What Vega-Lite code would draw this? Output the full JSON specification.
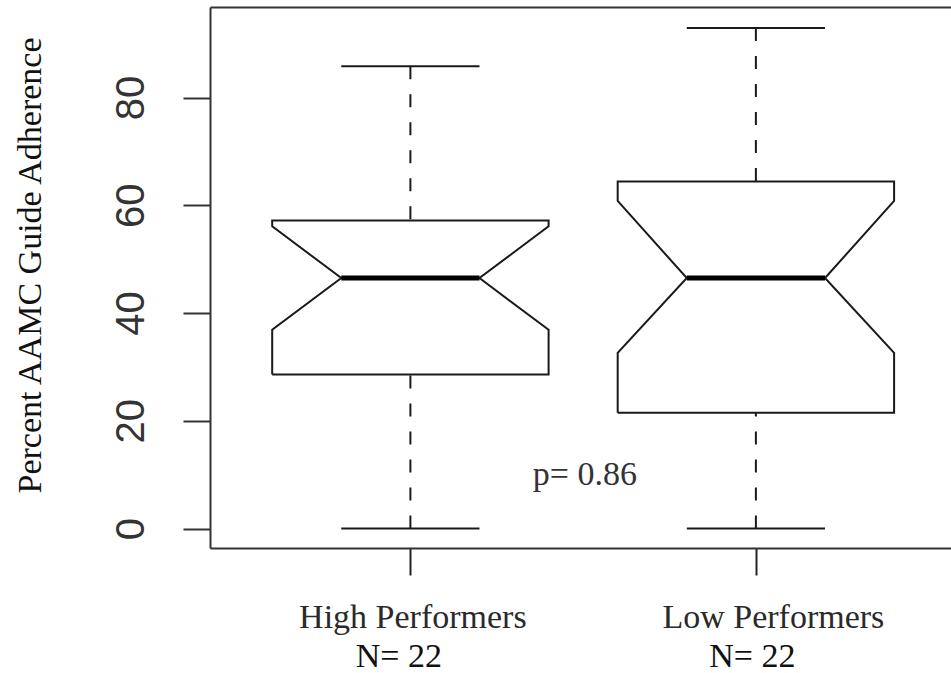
{
  "$schema": "https://vega.github.io/schema/vega-lite/v6.json",
  "width": 741,
  "height": 541,
  "autosize": "none",
  "padding": {"left": 210, "top": 7, "right": 0, "bottom": 125},
  "background": "white",
  "config": {"view": {"stroke": null}},
  "datasets": {
    "outline": [
      {"group": "High Performers", "step": 1, "pos": 0.6, "value": 28.6},
      {"group": "High Performers", "step": 2, "pos": 0.6, "value": 36.9},
      {"group": "High Performers", "step": 3, "pos": 0.8, "value": 46.5},
      {"group": "High Performers", "step": 4, "pos": 0.6, "value": 56.1},
      {"group": "High Performers", "step": 5, "pos": 0.6, "value": 57.2},
      {"group": "High Performers", "step": 6, "pos": 1.4, "value": 57.2},
      {"group": "High Performers", "step": 7, "pos": 1.4, "value": 56.1},
      {"group": "High Performers", "step": 8, "pos": 1.2, "value": 46.5},
      {"group": "High Performers", "step": 9, "pos": 1.4, "value": 36.9},
      {"group": "High Performers", "step": 10, "pos": 1.4, "value": 28.6},
      {"group": "High Performers", "step": 11, "pos": 0.6, "value": 28.6},
      {"group": "Low Performers", "step": 1, "pos": 1.6, "value": 21.5},
      {"group": "Low Performers", "step": 2, "pos": 1.6, "value": 32.6},
      {"group": "Low Performers", "step": 3, "pos": 1.8, "value": 46.5},
      {"group": "Low Performers", "step": 4, "pos": 1.6, "value": 60.8},
      {"group": "Low Performers", "step": 5, "pos": 1.6, "value": 64.4},
      {"group": "Low Performers", "step": 6, "pos": 2.4, "value": 64.4},
      {"group": "Low Performers", "step": 7, "pos": 2.4, "value": 60.8},
      {"group": "Low Performers", "step": 8, "pos": 2.2, "value": 46.5},
      {"group": "Low Performers", "step": 9, "pos": 2.4, "value": 32.6},
      {"group": "Low Performers", "step": 10, "pos": 2.4, "value": 21.5},
      {"group": "Low Performers", "step": 11, "pos": 1.6, "value": 21.5}
    ],
    "stats": [
      {"group": "High Performers", "pos": 1, "capL": 0.8, "capR": 1.2, "wlo": 0, "q1": 28.6, "median": 46.5, "q3": 57.2, "whi": 85.8},
      {"group": "Low Performers", "pos": 2, "capL": 1.8, "capR": 2.2, "wlo": 0, "q1": 21.5, "median": 46.5, "q3": 64.4, "whi": 92.9}
    ],
    "note": [{"pos": 1.505, "value": 8.15, "label": "p= 0.86"}]
  },
  "resolve": {"axis": {"x": "independent"}},
  "layer": [
    {
      "data": {"name": "outline"},
      "mark": {"type": "line", "color": "#1a1a1a", "strokeWidth": 2, "strokeJoin": "miter"},
      "encoding": {
        "x": {
          "field": "pos", "type": "quantitative",
          "scale": {"domain": [0.42, 2.5647], "nice": false, "zero": false},
          "axis": {
            "orient": "bottom", "values": [1, 2], "grid": false, "title": null,
            "labelExpr": "datum.value == 1 ? 'High Performers' : 'Low Performers'",
            "labelFont": "Liberation Serif", "labelFontSize": 34, "labelColor": "#2a2a2a",
            "labelPadding": 25, "labelAlign": "center", "labelLimit": 0,
            "labelOffset": {"condition": {"test": "datum.value == 2", "value": 17}, "value": 2},
            "tickSize": 27, "tickWidth": 2, "tickColor": "#222",
            "domainColor": "#333", "domainWidth": 2
          }
        },
        "y": {
          "field": "value", "type": "quantitative",
          "scale": {"domain": [-3.6, 96.8], "nice": false, "zero": false},
          "axis": {
            "values": [0, 20, 40, 60, 80], "grid": false,
            "labelAngle": 270, "labelAlign": "center", "labelBaseline": "bottom",
            "labelFont": "Liberation Sans", "labelFontSize": 40, "labelColor": "#333",
            "labelPadding": 32,
            "tickSize": 27, "tickWidth": 2, "tickColor": "#333",
            "domainColor": "#333", "domainWidth": 2,
            "title": "Percent AAMC Guide Adherence",
            "titleFont": "Liberation Serif", "titleFontSize": 34, "titleFontWeight": "normal",
            "titleColor": "#111", "titleAngle": 270, "titleX": -170, "titleY": 258,
            "titleAlign": "center", "titleBaseline": "alphabetic"
          }
        },
        "order": {"field": "step", "type": "quantitative"},
        "detail": {"field": "group", "type": "nominal"}
      }
    },
    {
      "data": {"name": "stats"},
      "mark": {"type": "rule", "color": "#000", "strokeWidth": 5},
      "encoding": {
        "x": {"field": "capL", "type": "quantitative", "axis": null},
        "x2": {"field": "capR"},
        "y": {"field": "median", "type": "quantitative"}
      }
    },
    {
      "data": {"name": "stats"},
      "mark": {"type": "rule", "color": "#1a1a1a", "strokeWidth": 2, "strokeDash": [13, 15]},
      "encoding": {
        "x": {"field": "pos", "type": "quantitative", "axis": null},
        "y": {"field": "whi", "type": "quantitative"},
        "y2": {"field": "q3"}
      }
    },
    {
      "data": {"name": "stats"},
      "mark": {"type": "rule", "color": "#1a1a1a", "strokeWidth": 2, "strokeDash": [13, 15]},
      "encoding": {
        "x": {"field": "pos", "type": "quantitative", "axis": null},
        "y": {"field": "wlo", "type": "quantitative"},
        "y2": {"field": "q1"}
      }
    },
    {
      "data": {"name": "stats"},
      "mark": {"type": "rule", "color": "#1a1a1a", "strokeWidth": 2},
      "encoding": {
        "x": {"field": "capL", "type": "quantitative", "axis": null},
        "x2": {"field": "capR"},
        "y": {"field": "whi", "type": "quantitative"}
      }
    },
    {
      "data": {"name": "stats"},
      "mark": {"type": "rule", "color": "#1a1a1a", "strokeWidth": 2},
      "encoding": {
        "x": {
          "field": "capL", "type": "quantitative",
          "axis": {"orient": "top", "labels": false, "ticks": false, "grid": false, "title": null, "domainColor": "#333", "domainWidth": 2}
        },
        "x2": {"field": "capR"},
        "y": {"field": "wlo", "type": "quantitative"}
      }
    },
    {
      "data": {"name": "note"},
      "mark": {"type": "text", "font": "Liberation Serif", "fontSize": 34, "color": "#333", "align": "center", "baseline": "alphabetic"},
      "encoding": {
        "x": {
          "field": "pos", "type": "quantitative",
          "axis": {
            "orient": "bottom", "values": [1, 2], "grid": false, "title": null,
            "domain": false, "ticks": false,
            "labelExpr": "'N= 22'",
            "labelFont": "Liberation Serif", "labelFontSize": 34, "labelColor": "#111",
            "labelPadding": 91, "labelAlign": "center", "labelLimit": 0,
            "labelOffset": {"condition": {"test": "datum.value == 2", "value": -4}, "value": -12}
          }
        },
        "y": {"field": "value", "type": "quantitative"},
        "text": {"field": "label"}
      }
    }
  ]
}
